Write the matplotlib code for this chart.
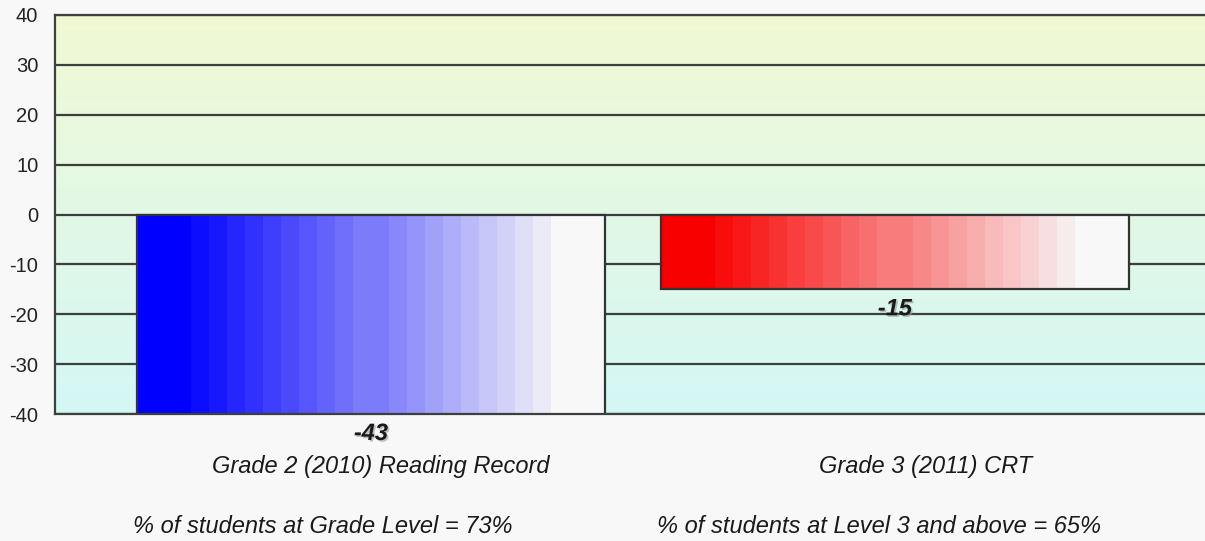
import numpy as np
import matplotlib
matplotlib.use("Agg")
import matplotlib.pyplot as plt
import matplotlib.patheffects as pe
from matplotlib.colors import to_rgb

# ---- data ----
categories = ["Grade 2 (2010) Reading Record", "Grade 3 (2011) CRT"]
values = [-43, -15]
notes = ["% of students at Grade Level = 73%",
         "% of students at Level 3 and above = 65%"]
bar_colors = ["#0000ff", "#f80000"]
yticks = [-40, -30, -20, -10, 0, 10, 20, 30, 40]

FONT = ["Liberation Sans", "DejaVu Sans"]
plt.rcParams["font.family"] = FONT

fig = plt.figure(figsize=(12.05, 5.41), dpi=100, facecolor="#f8f8f8")
ax = fig.add_axes([55 / 1205, 1 - 414 / 541, 1 - 55 / 1205, (414 - 15) / 541])
ax.patch.set_visible(False)

ymin, ymax = yticks[0], yticks[-1]
ax.set_ylim(ymin, ymax)
ax.set_xlim(-0.603, 1.592)

# background vertical gradient
top = np.array([241, 249, 211]) / 255
mid = np.array([226, 248, 230]) / 255
bot = np.array([212, 247, 245]) / 255
n = 200
tt = np.linspace(0, 1, n)[:, None]  # 0 top -> 1 bottom
grad = np.where(tt < 0.5, top + (mid - top) * (tt / 0.5), mid + (bot - mid) * ((tt - 0.5) / 0.5))
ax.imshow(grad[:, None, :], extent=[0, 1, 0, 1], transform=ax.transAxes,
          aspect="auto", zorder=-2, interpolation="bilinear")

# gridlines
for yv in yticks:
    ax.axhline(yv, color="#3c403c", lw=1.6, zorder=1)

# bars
width = 0.893
x = np.arange(len(categories))
bars = ax.bar(x, values, width=width, facecolor="none", edgecolor="#333333",
              linewidth=1.6, zorder=4)

white = np.array([248, 248, 248]) / 255
steps = 26
for b, c in zip(bars, bar_colors):
    base = np.array(to_rgb(c))
    pos = (np.arange(steps) + 0.5) / steps
    t = np.clip((pos - 0.09) / 0.82, 0, 1)
    t = np.round(t * 20) / 20
    cols = base[None, :] + (white - base)[None, :] * t[:, None]
    x0 = b.get_x()
    x1 = x0 + b.get_width()
    y0 = b.get_y()
    y1 = y0 + b.get_height()
    ax.imshow(cols[None, :, :], extent=[x0, x1, y1, y0], aspect="auto",
              zorder=3, interpolation="nearest")

# value labels
for xi, v in zip(x, values):
    yv = max(v, ymin)
    ax.annotate(f"{v}", xy=(xi, yv), xytext=(0, -14), textcoords="offset points",
                ha="center", va="center", fontsize=17, fontweight="bold",
                fontstyle="italic", color="#1a1a1a", annotation_clip=False,
                path_effects=[pe.SimplePatchShadow(offset=(1.2, -1.2), shadow_rgbFace="#999999", alpha=0.6),
                              pe.Normal()], zorder=6)

# category labels and notes
cat_dx = [0.019, 0.059]
for xi, lab, dx in zip(x, categories, cat_dx):
    ax.text(xi + dx, -(473 - 414) / 399, lab, transform=ax.get_xaxis_transform(), ha="center",
            va="baseline", fontsize=17, fontstyle="italic", color="#1a1a1a")
for b, note in zip(bars, notes):
    ax.text(b.get_x() - 0.007, -(533 - 414) / 399, note, transform=ax.get_xaxis_transform(), ha="left",
            va="baseline", fontsize=17, fontstyle="italic", color="#1a1a1a")

ax.set_xticks([])
ax.set_yticks(yticks)
ax.set_yticklabels([str(v) for v in yticks])
ax.tick_params(axis="y", length=0, pad=12, labelsize=14.5, labelcolor="#222222")
for s in ["left", "bottom", "top"]:
    ax.spines[s].set_color("#3c403c")
    ax.spines[s].set_linewidth(1.6)
    ax.spines[s].set_zorder(5)
ax.spines["right"].set_visible(False)

fig.savefig("out.png", dpi=100, facecolor=fig.get_facecolor())
